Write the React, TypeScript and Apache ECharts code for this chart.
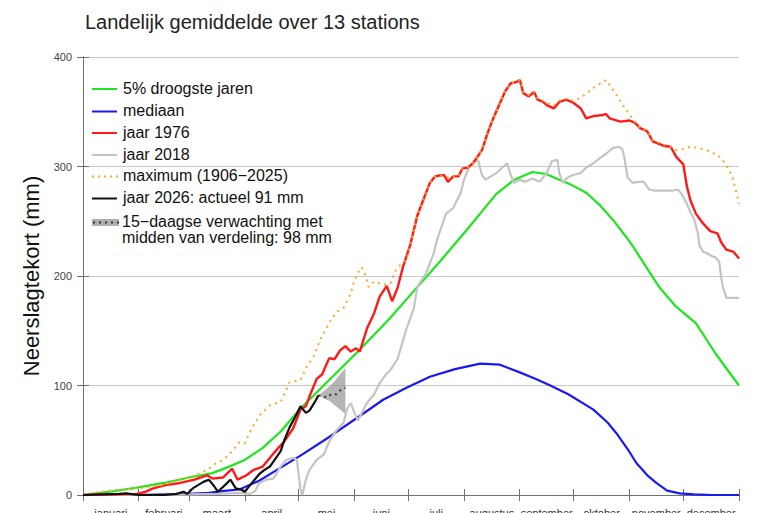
import React, { useEffect, useRef } from "react";
import * as echarts from "echarts";

// Day-of-year axis (0 = 1 januari, 365 = 31 december)
const monthNames = [
  "januari", "februari", "maart", "april", "mei", "juni",
  "juli", "augustus", "september", "oktober", "november", "december",
];
const monthStarts = [0, 31, 59, 90, 120, 151, 181, 212, 243, 273, 304, 334, 365];
const monthMids = monthNames.map((_, i) => (monthStarts[i] + monthStarts[i + 1]) / 2);
const yTickStep = 100;

// [dag, neerslagtekort in mm]
const droogste5 = [
  [0, 0], [15, 3], [31, 7], [45, 11], [59, 16], [72, 20], [80, 25], [90, 32], [100, 43],
  [110, 58], [121, 79], [137, 105], [153, 131], [170, 160], [185, 188], [199, 214],
  [215, 245], [230, 275], [240, 288], [250, 295], [258, 293], [265, 288], [272, 283],
  [280, 276], [288, 264], [295, 251], [303, 234], [306, 227], [317, 199], [321, 189],
  [330, 172], [341, 157], [352, 129], [365, 100],
];

const mediaan = [
  [0, 0], [30, 0], [45, 0.5], [59, 1], [70, 2], [80, 4], [87, 5], [98, 13], [110, 25],
  [121, 36], [137, 53], [153, 71], [167, 87], [180, 98], [193, 108], [207, 115],
  [221, 120], [232, 119], [243, 112], [252, 106], [260, 100], [270, 92], [284, 78],
  [292, 66], [297, 56], [303, 42], [308, 29], [314, 18], [319, 11], [325, 4],
  [332, 1.5], [340, 0.5], [350, 0], [365, 0],
];

const jaar1976 = [
  [0, 0], [15, 0.5], [30, 1], [35, 3], [39, 6], [46, 9], [54, 11], [62, 14], [69, 18],
  [72, 15], [78, 16], [83, 24], [86, 14], [91, 18], [95, 23], [100, 26], [106, 38],
  [112, 49], [117, 61], [121, 78], [124, 81], [126, 90], [130, 106], [133, 110],
  [137, 125], [140, 124], [143, 132], [146, 136], [149, 131], [152, 134], [154, 131],
  [158, 152], [162, 166], [165, 181], [169, 191], [172, 177], [175, 189], [178, 208],
  [182, 228], [186, 255], [189, 268], [193, 285], [196, 291], [199, 292], [201, 292],
  [203, 286], [206, 291], [209, 291], [211, 298], [214, 299], [217, 303], [222, 315],
  [225, 330], [228, 343], [232, 358], [235, 369], [238, 376], [241, 377], [243, 379],
  [245, 367], [248, 364], [251, 368], [253, 361], [256, 359], [258, 356], [262, 353],
  [265, 359], [269, 361], [273, 358], [277, 353], [280, 344], [284, 346], [289, 347],
  [291, 348], [293, 344], [299, 341], [304, 342], [307, 340], [310, 335], [314, 332],
  [317, 323], [323, 319], [327, 318], [330, 309], [334, 302], [336, 282], [338, 269],
  [341, 257], [345, 248], [349, 241], [353, 239], [355, 231], [358, 224], [362, 222],
  [365, 216],
];

const jaar2018 = [
  [0, 0], [40, 0], [60, 0.5], [75, 1], [88, 2], [93, 1], [96, 4], [98, 11], [102, 14],
  [106, 15], [110, 26], [113, 32], [117, 34], [119, 32], [121, 5], [122, 0], [124, 14],
  [126, 23], [130, 32], [134, 37], [137, 49], [141, 59], [145, 66], [147, 79], [149, 84],
  [151, 75], [153, 68], [158, 84], [162, 92], [165, 102], [169, 111], [171, 114],
  [173, 119], [175, 124], [177, 135], [180, 152], [184, 170], [186, 190], [191, 203],
  [195, 220], [197, 233], [202, 257], [206, 262], [208, 269], [210, 275], [212, 288],
  [215, 300], [219, 306], [220, 305], [222, 292], [224, 288], [227, 291], [230, 294],
  [234, 300], [236, 303], [238, 292], [240, 285], [243, 288], [246, 286], [250, 289],
  [254, 286], [258, 294], [261, 305], [264, 306], [265, 294], [267, 285], [269, 289],
  [272, 292], [277, 294], [280, 299], [284, 303], [288, 308], [292, 313], [295, 317],
  [298, 318], [300, 316], [301, 310], [302, 300], [303, 290], [306, 285], [309, 286],
  [312, 286], [315, 279], [318, 278], [323, 278], [328, 278], [331, 279], [333, 275],
  [336, 266], [338, 258], [340, 252], [342, 240], [343, 228], [345, 222], [347, 221],
  [350, 218], [352, 217], [354, 213], [355, 200], [356, 190], [358, 180], [361, 180],
  [365, 180],
];

const maximum = [
  [0, 0], [4, 1.5], [17, 4.5], [26, 5.5], [35, 7], [44, 9], [54, 14], [63, 18], [70, 24],
  [74, 29], [78, 32], [83, 40], [87, 48], [90, 47], [93, 58], [96, 67], [99, 74],
  [104, 82], [110, 85], [115, 103], [121, 105], [125, 119], [128, 125], [132, 142],
  [137, 157], [141, 167], [145, 171], [149, 184], [151, 196], [153, 203], [155, 208],
  [157, 201], [159, 190], [162, 195], [167, 192], [171, 193], [174, 205], [177, 211],
  [180, 215], [182, 228], [186, 255], [189, 268], [193, 285], [196, 291], [199, 292],
  [203, 290], [206, 291], [209, 291], [211, 298], [214, 299], [217, 303], [222, 315],
  [225, 330], [228, 343], [232, 358], [235, 369], [238, 376], [241, 377], [243, 379],
  [245, 368], [248, 365], [251, 368], [253, 362], [256, 360], [258, 358], [262, 356],
  [265, 360], [269, 362], [273, 360], [277, 363], [281, 368], [285, 373], [289, 377],
  [291, 379], [294, 372], [297, 365], [300, 357], [303, 350], [306, 343], [310, 335],
  [314, 332], [317, 324], [323, 320], [327, 318], [330, 315], [334, 316], [338, 318],
  [342, 317], [347, 315], [351, 312], [355, 308], [358, 301], [361, 292], [363, 280],
  [365, 266],
];

const jaar2026 = [
  [0, 0], [10, 0.5], [20, 1], [24, 1.5], [28, 0.5], [32, 0], [45, 0], [52, 1], [56, 3],
  [58, 1], [61, 6], [64, 9], [67, 12], [70, 14], [73, 8], [75, 3], [79, 9], [82, 14],
  [85, 6], [88, 5], [90, 3], [92, 7], [95, 13], [98, 19], [101, 23], [104, 26],
  [107, 33], [110, 40], [112, 50], [115, 62], [118, 71], [121, 81], [124, 75],
  [126, 77], [129, 85], [131, 91],
];

// 15-daagse verwachting: bovengrens, ondergrens en midden van de verdeling
const verwachtingBoven = [[131, 91], [134, 95], [137, 99], [140, 104], [143, 110], [146, 116]];
const verwachtingOnder = [[131, 91], [134, 88], [137, 86], [140, 82], [143, 78], [146, 74]];
const verwachtingMidden = [[131, 91], [134, 90], [136, 89], [138, 92], [141, 92], [144, 97], [146, 98]];

const FONT = '"Liberation Sans", Arial, Helvetica, sans-serif';
const GREEN = "#1ee61e";
const BLUE = "#1a1af0";
const RED = "#ff1a1a";
const GRAY = "#c4c4c4";
const ORANGE = "#ffa423";
const BLACK = "#111111";

type LegendRow = { label: string[]; y: number; kind: string; color: string };
const legendRows: LegendRow[] = [
  { label: ["5% droogste jaren"], y: 89, kind: "line", color: GREEN },
  { label: ["mediaan"], y: 111.5, kind: "line", color: BLUE },
  { label: ["jaar 1976"], y: 133, kind: "line", color: RED },
  { label: ["jaar 2018"], y: 155, kind: "line", color: GRAY },
  { label: ["maximum (1906\u22122025)"], y: 176.5, kind: "dots", color: ORANGE },
  { label: ["jaar 2026: actueel 91 mm"], y: 198.5, kind: "line", color: BLACK },
  {
    label: ["15\u2212daagse verwachting met", "midden van verdeling: 98 mm"],
    y: 222.5,
    kind: "band",
    color: "#b0b0b0",
  },
];

function buildLegend() {
  const els: any[] = [];
  const x0 = 92;
  const x1 = 117;
  legendRows.forEach((r) => {
    if (r.kind === "line") {
      els.push({
        type: "line",
        shape: { x1: x0, y1: r.y, x2: x1, y2: r.y },
        style: { stroke: r.color, lineWidth: 2 },
      });
    } else if (r.kind === "dots") {
      els.push({
        type: "line",
        shape: { x1: x0, y1: r.y, x2: x1 + 2, y2: r.y },
        style: { stroke: r.color, lineWidth: 2, lineDash: [2, 4] },
      });
    } else {
      els.push({
        type: "rect",
        shape: { x: x0, y: r.y - 3.5, width: 27, height: 7 },
        style: { fill: r.color },
      });
      els.push({
        type: "line",
        shape: { x1: x0 + 1, y1: r.y, x2: x1 + 2, y2: r.y },
        style: { stroke: "#333", lineWidth: 2, lineDash: [2, 4] },
      });
    }
    r.label.forEach((t, i) => {
      els.push({
        type: "text",
        x: r.kind === "band" ? 122 : 123,
        y: r.y - 1 + i * 16,
        style: {
          text: t,
          fill: "#111",
          font: `16px ${FONT}`,
          verticalAlign: "middle",
          align: "left",
        },
      });
    });
  });
  return els;
}

const lineSeries = (name: string, data: number[][], color: string, width: number, extra: any = {}) => ({
  name,
  type: "line",
  data,
  showSymbol: false,
  symbol: "none",
  smooth: false,
  lineStyle: { color, width, ...extra },
  emphasis: { disabled: true },
});

export default function App() {
  const ref = useRef<HTMLDivElement>(null);

  useEffect(() => {
    if (!ref.current) return;
    const chart = echarts.init(ref.current, null, { renderer: "svg" });

    const monthLabel = (v: number) => {
      let best = 0;
      monthMids.forEach((m, i) => {
        if (Math.abs(m - v) < Math.abs(monthMids[best] - v)) best = i;
      });
      return monthNames[best];
    };

    const axisLine = { show: true, lineStyle: { color: "#707070", width: 1 } };

    chart.setOption({
      animation: false,
      backgroundColor: "#ffffff",
      title: {
        text: "Landelijk gemiddelde over 13 stations",
        left: 85,
        top: 12,
        padding: 0,
        textStyle: { fontSize: 20, fontWeight: "normal", color: "#222", fontFamily: FONT },
      },
      grid: {
        left: 83,
        right: 31,
        top: 57,
        bottom: 18,
        containLabel: false,
        outerBoundsMode: "none",
      },
      xAxis: [
        {
          type: "value",
          min: 0,
          max: 365,
          position: "bottom",
          axisLine,
          axisTick: { show: true, customValues: monthStarts, length: 6, lineStyle: { color: "#707070" } },
          axisLabel: {
            show: true,
            customValues: monthMids,
            formatter: monthLabel,
            fontSize: 11,
            color: "#333",
            fontFamily: FONT,
            margin: 12,
          },
          splitLine: { show: false },
        },
        {
          type: "value",
          min: 0,
          max: 365,
          position: "top",
          axisLine,
          axisTick: { show: true, customValues: monthStarts, length: 6, lineStyle: { color: "#707070" } },
          axisLabel: { show: false },
          splitLine: { show: false },
        },
      ],
      yAxis: [
        {
          type: "value",
          min: 0,
          max: 400,
          interval: yTickStep,
          position: "left",
          name: "Neerslagtekort (mm)",
          nameLocation: "middle",
          nameGap: 40,
          nameTextStyle: { fontSize: 22, color: "#111", fontFamily: FONT },
          axisLine,
          axisTick: { show: true, length: 6, lineStyle: { color: "#707070" } },
          axisLabel: { fontSize: 11, color: "#444", fontFamily: FONT, margin: 11 },
          splitLine: { show: true, lineStyle: { color: "#c8c8c8", width: 1 } },
        },
        {
          type: "value",
          min: 0,
          max: 400,
          interval: yTickStep,
          position: "right",
          axisLine,
          axisTick: { show: true, length: 6, lineStyle: { color: "#707070" } },
          axisLabel: { show: false },
          splitLine: { show: false },
        },
      ],
      series: [
        lineSeries("mediaan", mediaan, BLUE, 2.2),
        lineSeries("5% droogste jaren", droogste5, GREEN, 2.2),
        lineSeries("jaar 2018", jaar2018, GRAY, 2.2),
        lineSeries("jaar 1976", jaar1976, RED, 2.4),
        lineSeries("maximum (1906\u22122025)", maximum, ORANGE, 2, { type: [2, 4.5], cap: "butt" }),
        {
          name: "verwachting",
          type: "custom",
          coordinateSystem: "cartesian2d",
          data: [verwachtingBoven[0]],
          renderItem: (_params: any, api: any) => {
            const pts = [
              ...verwachtingBoven.map((p) => api.coord(p)),
              ...verwachtingOnder.slice().reverse().map((p) => api.coord(p)),
            ];
            return {
              type: "polygon",
              shape: { points: pts },
              style: { fill: "rgba(150,150,150,0.7)", stroke: "none" },
            };
          },
          silent: true,
        },
        lineSeries("jaar 2026", jaar2026, BLACK, 2.2),
        lineSeries("midden verwachting", verwachtingMidden, "#333", 2, { type: [2, 4], cap: "butt" }),
      ],
      graphic: buildLegend(),
    });

    return () => chart.dispose();
  }, []);

  return (
    <div
      ref={ref}
      style={{ position: "fixed", left: 0, top: 0, width: 770, height: 513, background: "#fff" }}
    />
  );
}
